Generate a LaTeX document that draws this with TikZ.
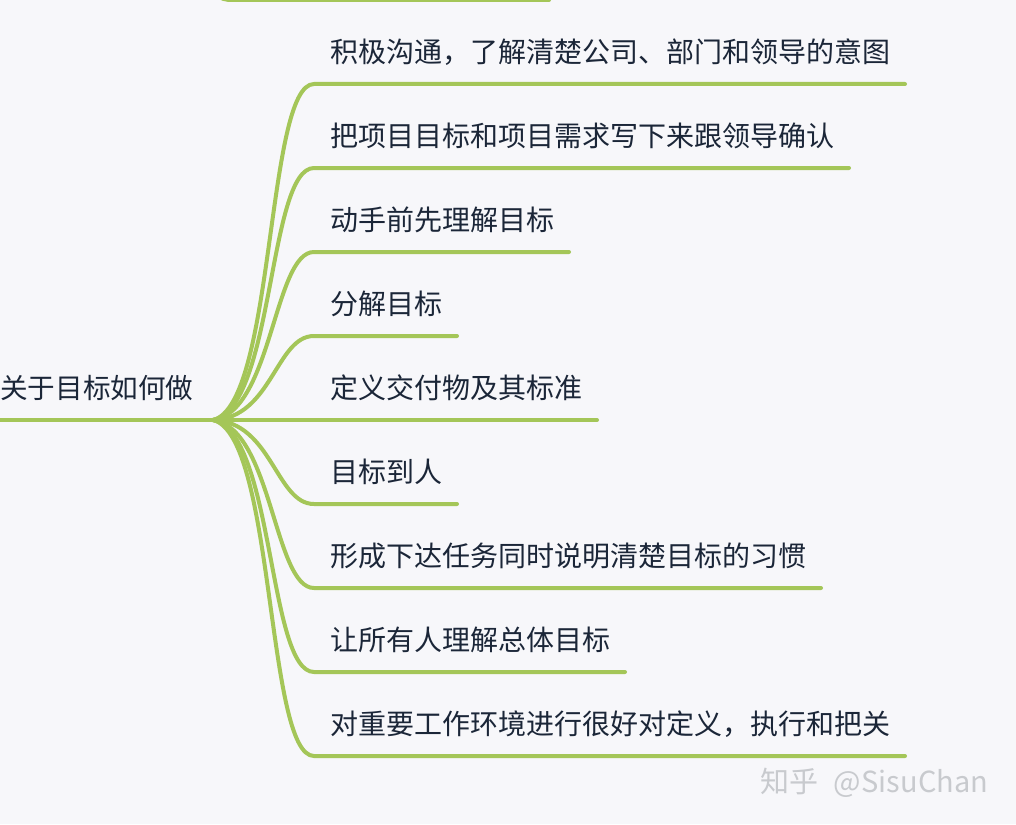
\documentclass[tikz,border=0pt]{standalone}
\usepackage{fontspec}
\setmainfont{Noto Sans CJK SC}
\usepackage{color}
\definecolor{Branch-1}{RGB}{164,198,88}
\definecolor{Label-1}{RGB}{27,38,56}
\definecolor{Mark-1}{RGB}{200,202,206}
\definecolor{Paper-1}{RGB}{247,247,250}
\tikzset{
  leaf/.style={inner sep=0pt, anchor=west, text=Label-1, font=\fontsize{28}{28}\selectfont},
  branch/.style={draw=Branch-1, line width=4pt, line cap=round},
}
\begin{document}
\begin{tikzpicture}[x=1pt, y=-1pt]
      \useasboundingbox (0, 0) rectangle (1016, 824);
      \clip (0, 0) rectangle (1016, 824);
      \fill[Paper-1] (0, 0) rectangle (1016, 824);

      \node[leaf, font=\fontsize{27.6}{28}\selectfont] (root) at (0, 388) {关于目标如何做};
      \node[leaf] (goal1) at (330,  52) {积极沟通，了解清楚公司、部门和领导的意图};
      \node[leaf] (goal2) at (330, 136) {把项目目标和项目需求写下来跟领导确认};
      \node[leaf] (goal3) at (330, 220) {动手前先理解目标};
      \node[leaf] (goal4) at (330, 304) {分解目标};
      \node[leaf] (goal5) at (330, 388) {定义交付物及其标准};
      \node[leaf] (goal6) at (330, 472) {目标到人};
      \node[leaf] (goal7) at (330, 556) {形成下达任务同时说明清楚目标的习惯};
      \node[leaf] (goal8) at (330, 640) {让所有人理解总体目标};
      \node[leaf] (goal9) at (330, 724) {对重要工作环境进行很好对定义，执行和把关};

      \node[inner sep=0pt, anchor=west, text=Mark-1, font=\fontsize{29}{29}\selectfont] (mark) at (760, 783) {知乎\hspace{15pt}@\hspace{1pt}SisuChan};

      \coordinate (hub) at (213, 420);
      \coordinate (start) at (-5, 420);
      \coordinate (prevbend) at (216, -6);
      \coordinate (prev) at (232, 0);
      \coordinate (prevend) at (549, 0);
      \coordinate (end1) at (905,  84);
      \coordinate (end2) at (849, 168);
      \coordinate (end3) at (569, 252);
      \coordinate (end4) at (457, 336);
      \coordinate (end5) at (597, 420);
      \coordinate (end6) at (457, 504);
      \coordinate (end7) at (821, 588);
      \coordinate (end8) at (625, 672);
      \coordinate (end9) at (905, 756);

      \draw[branch] (start) -- (hub);
      \draw[branch] (hub) -- (end5);
      \draw[branch] (prevbend) .. controls (220, -1) and (226, 0) .. (prev) -- (prevend);

      \draw[branch] (hub) .. controls (275, 405) and (266,  84) .. (314,  84) -- (end1);
      \draw[branch] (hub) .. controls (274, 408) and (268, 168) .. (314, 168) -- (end2);
      \draw[branch] (hub) .. controls (272, 412) and (274, 252) .. (314, 252) -- (end3);
      \draw[branch] (hub) .. controls (272, 418) and (276, 336) .. (314, 336) -- (end4);
      \draw[branch] (hub) .. controls (272, 422) and (276, 504) .. (314, 504) -- (end6);
      \draw[branch] (hub) .. controls (272, 428) and (274, 588) .. (314, 588) -- (end7);
      \draw[branch] (hub) .. controls (274, 432) and (268, 672) .. (314, 672) -- (end8);
      \draw[branch] (hub) .. controls (275, 435) and (266, 756) .. (314, 756) -- (end9);
    \end{tikzpicture}
\end{document}
